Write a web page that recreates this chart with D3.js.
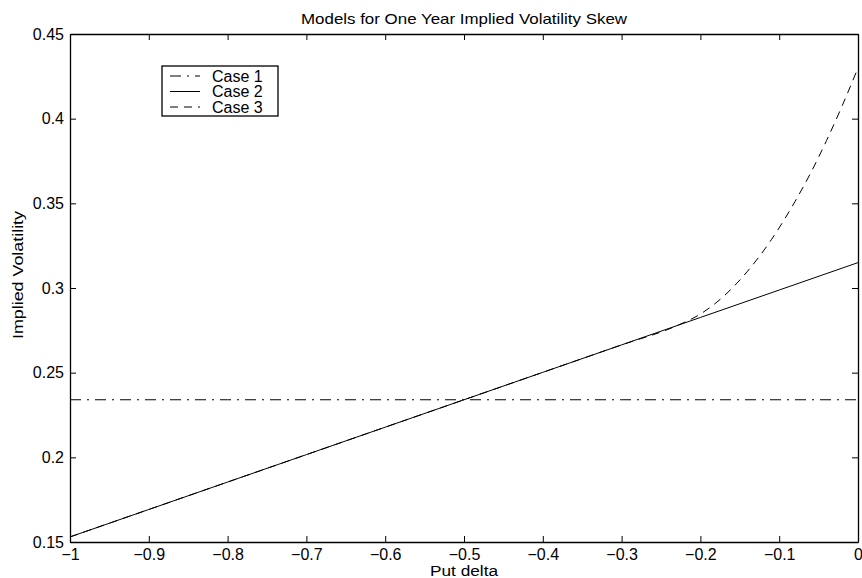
<!DOCTYPE html>
<html>
<head>
	<title>Models for One Year Implied Volatility Skew</title>
	<style type="text/css">
		body {
			margin: 0;
			background: white;
		}
		svg text {
			font-family: "Liberation Sans", Arial, sans-serif;
			fill: black;
		}
	</style>
</head>
<body>
<svg id="chart"></svg>

<script type="text/javascript" src="https://d3js.org/d3.v7.min.js"></script>
<script type="text/javascript">
	// put deltas and implied vols
	var deltas = [-1, -0.9, -0.8, -0.7, -0.6, -0.5, -0.4, -0.3, -0.2, -0.1, 0];
	var case1 = [0.234, 0.234, 0.234, 0.234, 0.234, 0.234, 0.234, 0.234, 0.234, 0.234, 0.234];
	var case2 = [0.153, 0.1692, 0.1854, 0.2016, 0.2178, 0.234, 0.2502, 0.2664, 0.2826, 0.2988, 0.315];

	var deltas3 = [-1, -0.8, -0.6, -0.4, -0.3, -0.23, -0.2, -0.17, -0.14, -0.11, -0.08, -0.06, -0.04, -0.02, 0];
	var case3 = [0.153, 0.1854, 0.2178, 0.2502, 0.2664, 0.2777, 0.2846, 0.2953, 0.310, 0.3285, 0.351, 0.368, 0.387, 0.4077, 0.43];

	var xTicks = [-1, -0.9, -0.8, -0.7, -0.6, -0.5, -0.4, -0.3, -0.2, -0.1, 0];
	var yTicks = [0.15, 0.2, 0.25, 0.3, 0.35, 0.4, 0.45];
	var legendLabels = ["Case 1", "Case 2", "Case 3"];

	var width = 862,
		height = 578;
	var margin = {top: 34, right: 4, bottom: 36, left: 70};
	var iw = width - margin.left - margin.right,
		ih = height - margin.top - margin.bottom;

	var svg = d3.select("#chart")
		.attr("width", width)
		.attr("height", height);

	var x = d3.scaleLinear().domain([-1, 0]).range([margin.left, margin.left + iw]);
	var y = d3.scaleLinear().domain([0.15, 0.45]).range([margin.top + ih, margin.top]);

	var fmt = function(d) { return String(d).replace("-", "\u2212"); };

	// axes, ticks pointing inward like matlab
	var tick = 6;
	var gBottom = svg.append("g")
		.attr("transform", `translate(0,${margin.top + ih})`)
		.call(d3.axisBottom(x).tickValues(xTicks).tickSizeInner(-tick).tickSizeOuter(0).tickFormat(fmt));
	var gTop = svg.append("g")
		.attr("transform", `translate(0,${margin.top})`)
		.call(d3.axisTop(x).tickValues(xTicks).tickSizeInner(-tick).tickSizeOuter(0).tickFormat(""));
	var gLeft = svg.append("g")
		.attr("transform", `translate(${margin.left},0)`)
		.call(d3.axisLeft(y).tickValues(yTicks).tickSizeInner(-tick).tickSizeOuter(0).tickFormat(fmt));
	var gRight = svg.append("g")
		.attr("transform", `translate(${margin.left + iw},0)`)
		.call(d3.axisRight(y).tickValues(yTicks).tickSizeInner(-tick).tickSizeOuter(0).tickFormat(""));

	[gBottom, gTop, gLeft, gRight].forEach(function(g) {
		g.selectAll("path.domain").attr("stroke", "black").attr("stroke-width", 1.3);
		g.selectAll(".tick line").attr("stroke", "black");
		g.selectAll("text").style("font-size", "16px").style("font-family", "'Liberation Sans', Arial, sans-serif");
	});
	gBottom.selectAll("text").attr("y", 18).attr("dy", null);
	gLeft.selectAll("text").attr("x", -6);

	var line = d3.line().x(d => x(d[0])).y(d => y(d[1]));

	var styles = [
		{data: d3.zip(deltas, case1), dash: "11,6,2,6"},
		{data: d3.zip(deltas, case2), dash: null},
		{data: d3.zip(deltas3, case3), dash: "8,6", curve: d3.curveMonotoneX}
	];

	styles.forEach(function(s) {
		var l = s.curve ? line.curve(s.curve) : line.curve(d3.curveLinear);
		svg.append("path")
			.datum(s.data)
			.attr("fill", "none")
			.attr("stroke", "black")
			.attr("stroke-width", 1)
			.attr("stroke-dasharray", s.dash)
			.attr("d", l);
	});

	// title and axis labels (the original text is a bit stretched sideways)
	svg.append("text")
		.attr("x", margin.left + iw / 2)
		.attr("y", 24)
		.attr("text-anchor", "middle")
		.attr("textLength", 326)
		.attr("lengthAdjust", "spacingAndGlyphs")
		.style("font-size", "15px")
		.text("Models for One Year Implied Volatility Skew");

	svg.append("text")
		.attr("x", margin.left + iw / 2)
		.attr("y", 576)
		.attr("text-anchor", "middle")
		.attr("textLength", 68)
		.attr("lengthAdjust", "spacingAndGlyphs")
		.style("font-size", "14px")
		.text("Put delta");

	svg.append("text")
		.attr("transform", `translate(23,275) rotate(-90)`)
		.attr("text-anchor", "middle")
		.attr("textLength", 128)
		.attr("lengthAdjust", "spacingAndGlyphs")
		.style("font-size", "15px")
		.text("Implied Volatility");

	// legend
	var lg = svg.append("g").attr("transform", "translate(162,66)");
	lg.append("rect")
		.attr("width", 116)
		.attr("height", 50)
		.attr("fill", "white")
		.attr("stroke", "black")
		.attr("stroke-width", 1.3);

	legendLabels.forEach(function(name, i) {
		var cy = 10 + i * 15.5;
		lg.append("line")
			.attr("x1", 8).attr("x2", 38)
			.attr("y1", cy).attr("y2", cy)
			.attr("stroke", "black")
			.attr("stroke-dasharray", styles[i].dash);
		lg.append("text")
			.attr("x", 50)
			.attr("y", cy)
			.attr("dy", "0.35em")
			.style("font-size", "16px")
			.text(name);
	});
</script>
</body>
</html>
